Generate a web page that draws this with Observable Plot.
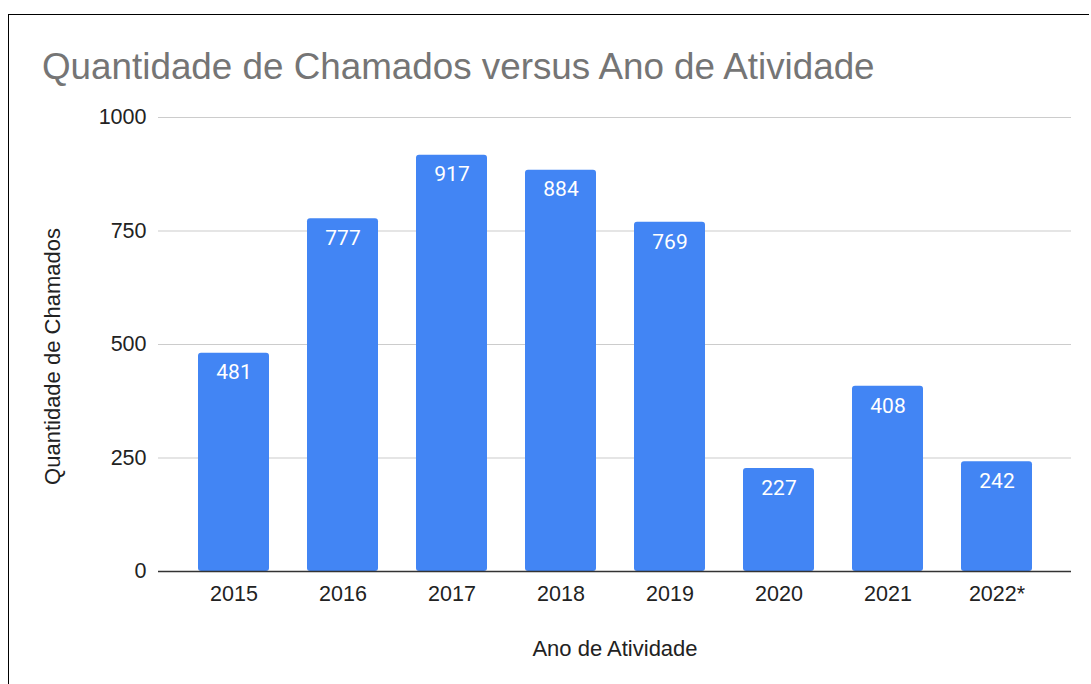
<!DOCTYPE html>
<html>
<head>
<meta charset="utf-8">
<script src="https://cdn.jsdelivr.net/npm/d3@7"></script>
<script src="https://cdn.jsdelivr.net/npm/@observablehq/plot@0.6"></script>
<style>
  html, body { margin: 0; padding: 0; background: #fff; width: 1091px; height: 684px; overflow: hidden; }
  #frame { position: absolute; left: 8px; top: 14px; width: 1081px; height: 700px; border-left: 1.5px solid #000; border-top: 1.5px solid #000; box-sizing: border-box; }
  #title { position: absolute; left: 42px; top: 49px; font-family: "Liberation Sans", Arial, sans-serif; font-size: 36.8px; line-height: 36.8px; color: #757575; white-space: nowrap; }
  #chart { position: absolute; left: 0; top: 95px; }
</style>
</head>
<body>
<div id="frame"></div>
<div id="title">Quantidade de Chamados versus Ano de Atividade</div>
<div id="chart"></div>
<script>
const years = ["2015", "2016", "2017", "2018", "2019", "2020", "2021", "2022*"];
const counts = [481, 777, 917, 884, 769, 227, 408, 242];
const yTicks = [0, 250, 500, 750, 1000];
const xTitle = "Ano de Atividade";
const yTitle = "Quantidade de Chamados";

const data = years.map((y, i) => ({year: y, count: counts[i]}));

const chart = Plot.plot({
  width: 1091,
  height: 589,
  marginLeft: 158,
  marginRight: 20,
  marginTop: 22,
  marginBottom: 113,
  style: {fontFamily: "'Liberation Sans', Arial, sans-serif", fontSize: "21.5px", background: "transparent", overflow: "visible"},
  x: {domain: years, paddingInner: 0.35, paddingOuter: 0.175, insetLeft: 20, insetRight: 20},
  y: {domain: [0, 1000]},
  marks: [
    Plot.ruleY(yTicks.filter(d => d > 0), {stroke: "#cccccc", strokeWidth: 1.2}),
    Plot.barY(data, {x: "year", y: "count", fill: "#4285F4", rx: 3}),
    Plot.ruleY([0], {stroke: "#333333", strokeWidth: 1.5}),
    Plot.text(data, {x: "year", y: "count", text: d => String(d.count), dy: 19.5, fill: "#ffffff", fontFamily: "Roboto, sans-serif", fontSize: 21}),
    Plot.axisX({tickSize: 0, tickPadding: 14, label: null, color: "#222222"}),
    Plot.axisY({ticks: yTicks, tickSize: 0, tickPadding: 12, label: null, color: "#222222", tickFormat: d => String(d)}),
    Plot.text([xTitle], {frameAnchor: "bottom", dy: 77, textAnchor: "middle", lineAnchor: "middle", text: d => d, fill: "#222222", fontSize: 22}),
    Plot.text([yTitle], {frameAnchor: "left", dx: -106, dy: 12, rotate: -90, textAnchor: "middle", lineAnchor: "middle", text: d => d, fill: "#222222", fontSize: 22})
  ]
});
document.getElementById("chart").appendChild(chart);
</script>
</body>
</html>
